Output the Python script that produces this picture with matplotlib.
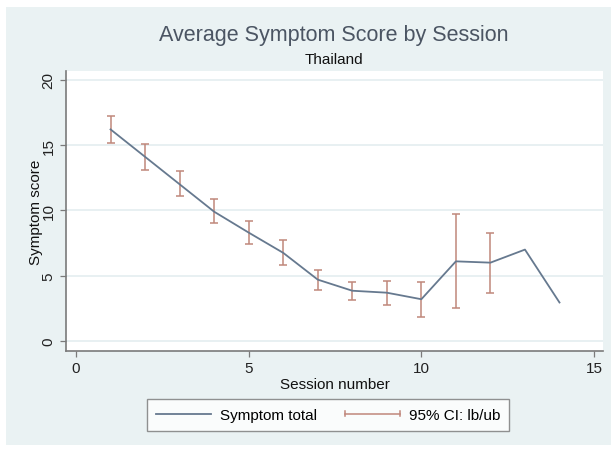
import numpy as np
import matplotlib
matplotlib.use('Agg')
from matplotlib import pyplot as plt
from matplotlib.lines import Line2D
from matplotlib.patches import Rectangle
from matplotlib.legend_handler import HandlerBase

plt.rcParams['font.family'] = ['Liberation Sans', 'DejaVu Sans']

## Data
session = [1, 2, 3, 4, 5, 6, 7, 8, 9, 10, 11, 12, 13, 14]
symptom = [16.2, 14.1, 12.0, 9.9, 8.3, 6.75, 4.7, 3.85, 3.7, 3.2, 6.1, 6.0, 7.0, 2.95]
ci_x = [1, 2, 3, 4, 5, 6, 7, 8, 9, 10, 11, 12]
ci_lb = [15.15, 13.1, 11.1, 9.05, 7.45, 5.8, 3.9, 3.15, 2.75, 1.85, 2.55, 3.65]
ci_ub = [17.2, 15.05, 13.05, 10.9, 9.2, 7.7, 5.45, 4.55, 4.6, 4.5, 9.7, 8.3]

line_col = '#66798f'
ci_col = '#c0877b'
bg_col = '#eaf2f3'

fig = plt.figure(figsize=(6.11, 4.52), dpi=100)
fig.patch.set_facecolor('white')
# graph region (light bluish gray with thin white border)
fig.patches.append(Rectangle((6/611, 6/452), 605/611, 438/452, transform=fig.transFigure,
                             facecolor=bg_col, edgecolor='none', zorder=-10))

ax = fig.add_axes([66/611, 1-351.7/452, 537/611, 279.7/452])
ax.set_facecolor('white')

for yv in [0, 5, 10, 15, 20]:
    ax.axhline(yv, color='#e4eef0', lw=1.2, zorder=0)

ax.plot(session, symptom, color=line_col, lw=1.3, zorder=3)
ci_lb_a = np.array(ci_lb)
ci_ub_a = np.array(ci_ub)
ax.errorbar(ci_x, ci_lb_a, yerr=[np.zeros(len(ci_x)), ci_ub_a-ci_lb_a], fmt='none',
            ecolor=ci_col, elinewidth=1.1, capsize=3.2, capthick=1.1, zorder=2)

ax.set_xlim(-0.29, 15.26)
ax.set_ylim(-0.74, 20.67)
ax.set_xticks([0, 5, 10, 15])
ax.set_yticks([0, 5, 10, 15, 20])
ax.set_yticklabels(['0', '5', '10', '15', '20'], rotation=90, va='center')
ax.tick_params(labelsize=11, colors='#222222', length=4, width=0.9)
ax.tick_params(axis='both', color='#7a7a7a')
for s in ['top', 'right']:
    ax.spines[s].set_visible(False)
for s in ['left', 'bottom']:
    ax.spines[s].set_color('#7a7a7a')
    ax.spines[s].set_linewidth(1.2)

ax.set_xlabel('Session number', fontsize=11, color='#111111', labelpad=1)
ax.set_ylabel('Symptom score', fontsize=11, color='#111111', labelpad=-1)

fig.text(334/611, 1-36/452, 'Average Symptom Score by Session', ha='center', va='center',
         fontsize=15.5, color='#4b5563')
fig.text(334/611, 1-60/452, 'Thailand', ha='center', va='center', fontsize=11, color='#111111')

# legend: horizontal capped line for the CI entry
class CapLineHandler(HandlerBase):
    def create_artists(self, legend, orig_handle, xdescent, ydescent, width, height, fontsize, trans):
        y = height/2 - ydescent
        h = height*0.25
        main = Line2D([-xdescent, width-xdescent], [y, y], color=ci_col, lw=1.1, transform=trans)
        c1 = Line2D([-xdescent, -xdescent], [y-h, y+h], color=ci_col, lw=1.1, transform=trans)
        c2 = Line2D([width-xdescent, width-xdescent], [y-h, y+h], color=ci_col, lw=1.1, transform=trans)
        return [main, c1, c2]

h1 = Line2D([], [], color=line_col, lw=1.3)
h2 = object()
leg = fig.legend([h1, h2], ['Symptom total', '95% CI: lb/ub'], ncol=2,
                 handler_map={object: CapLineHandler()},
                 loc='center', bbox_to_anchor=(328/611, 1-416/452), frameon=True,
                 fancybox=False, edgecolor='#777777', fontsize=11, handlelength=3.6,
                 columnspacing=1.8, handletextpad=0.6, borderpad=0.6, borderaxespad=0)
leg.get_frame().set_linewidth(1.0)

plt.savefig('out.png', dpi=100, facecolor=fig.get_facecolor())
